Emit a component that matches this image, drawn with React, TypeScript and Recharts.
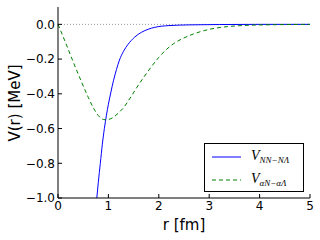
import React from "react";
import {
  LineChart,
  Line,
  XAxis,
  YAxis,
  ReferenceLine,
} from "recharts";

// r [fm] / V(r) [MeV]
const nnR = [0.77, 0.8, 0.84, 0.88, 0.92, 0.96, 1.0, 1.05, 1.1, 1.16, 1.22, 1.3, 1.39, 1.52, 1.66, 1.79, 1.92, 2.2, 2.6, 3.2, 4, 5];
const nnV = [-1.0, -0.91, -0.8, -0.69, -0.6, -0.525, -0.46, -0.39, -0.325, -0.26, -0.205, -0.155, -0.115, -0.074, -0.045, -0.028, -0.017, -0.007, -0.003, -0.001, 0, 0];

const anR = [0, 0.15, 0.3, 0.45, 0.6, 0.7, 0.8, 0.9, 0.95, 1.0, 1.1, 1.2, 1.3, 1.43, 1.55, 1.7, 1.85, 2.0, 2.15, 2.3, 2.5, 2.7, 2.9, 3.1, 3.4, 3.8, 4.3, 5];
const anV = [0, -0.105, -0.215, -0.32, -0.42, -0.48, -0.525, -0.548, -0.55, -0.548, -0.535, -0.51, -0.48, -0.425, -0.37, -0.305, -0.245, -0.19, -0.145, -0.11, -0.078, -0.054, -0.036, -0.023, -0.012, -0.005, -0.002, 0];

const xTicks = [0, 1, 2, 3, 4, 5];
const yTicks = [-1.0, -0.8, -0.6, -0.4, -0.2, 0.0];

const nnData = nnR.map((r, i) => ({ r, v: nnV[i] }));
const anData = anR.map((r, i) => ({ r, v: anV[i] }));

const font = "'DejaVu Sans', sans-serif";
const tickStyle = { fontSize: 12, fill: "#000", fontFamily: font };

const fmtY = (v: number) => v.toFixed(1).replace("-", "\u2212");

const legendItems = [
  { color: "#0000ff", dash: undefined as string | undefined, sub: "NN\u2212N\u039b" },
  { color: "#008000", dash: "4 3", sub: "\u03b1N\u2212\u03b1\u039b" },
];

const LegendBox = () => (
  <div
    style={{
      position: "absolute",
      left: 204,
      top: 143,
      width: 100,
      height: 49,
      border: "1px solid #000",
      background: "#fff",
      fontFamily: "'Liberation Serif', serif",
      fontStyle: "italic",
      boxSizing: "border-box",
      paddingTop: 1,
    }}
  >
    {legendItems.map((e, i) => (
      <div key={i} style={{ display: "flex", alignItems: "center", height: 23 }}>
        <svg width={46} height={10} style={{ display: "block" }}>
          <line x1={7} x2={36} y1={5} y2={5} stroke={e.color} strokeWidth={1} strokeDasharray={e.dash} />
        </svg>
        <span style={{ fontSize: 14, lineHeight: "14px", whiteSpace: "nowrap" }}>
          V<span style={{ fontSize: 9, position: "relative", top: 3 }}>{e.sub}</span>
        </span>
      </div>
    ))}
  </div>
);

const App = () => (
  <div style={{ position: "absolute", left: 0, top: 0, width: 320, height: 240 }}>
    <LineChart width={320} height={240} margin={{ top: 7, right: 10, bottom: 0, left: 0 }}>
      <XAxis
        dataKey="r"
        type="number"
        domain={[0, 5]}
        ticks={xTicks}
        height={42}
        tickSize={-4}
        tickMargin={7}
        tick={tickStyle}
        axisLine={{ stroke: "#000" }}
        tickLine={{ stroke: "#000" }}
        label={{ value: "r [fm]", position: "insideBottom", offset: 10, fontSize: 15, fill: "#000", fontFamily: font }}
      />
      <XAxis
        xAxisId="top"
        orientation="top"
        type="number"
        domain={[0, 5]}
        ticks={xTicks}
        height={0}
        tickSize={-4}
        tick={false}
        axisLine={{ stroke: "#000" }}
        tickLine={{ stroke: "#000" }}
      />
      <YAxis
        type="number"
        domain={[-1, 0.1]}
        ticks={yTicks}
        width={58}
        tickSize={-4}
        tickMargin={7}
        tickFormatter={fmtY}
        tick={tickStyle}
        axisLine={{ stroke: "#000" }}
        tickLine={{ stroke: "#000" }}
        label={{
          content: () => (
            <text
              x={15}
              y={103}
              transform="rotate(-90 15 103)"
              textAnchor="middle"
              dominantBaseline="middle"
              fontSize={15}
              fontFamily={font}
              fill="#000"
            >
              V(r) [MeV]
            </text>
          ),
        }}
      />
      <YAxis
        yAxisId="right"
        orientation="right"
        type="number"
        domain={[-1, 0.1]}
        ticks={yTicks}
        width={0}
        tickSize={-4}
        tick={false}
        axisLine={{ stroke: "#000" }}
        tickLine={{ stroke: "#000" }}
      />
      <ReferenceLine y={0} stroke="#999" strokeDasharray="1 2" />
      <Line
        data={nnData}
        dataKey="v"
        type="monotone"
        stroke="#0000ff"
        strokeWidth={1}
        dot={false}
        isAnimationActive={false}
      />
      <Line
        data={anData}
        dataKey="v"
        type="monotone"
        stroke="#008000"
        strokeWidth={1}
        strokeDasharray="4 3"
        dot={false}
        isAnimationActive={false}
      />
    </LineChart>
    <LegendBox />
  </div>
);

export default App;
